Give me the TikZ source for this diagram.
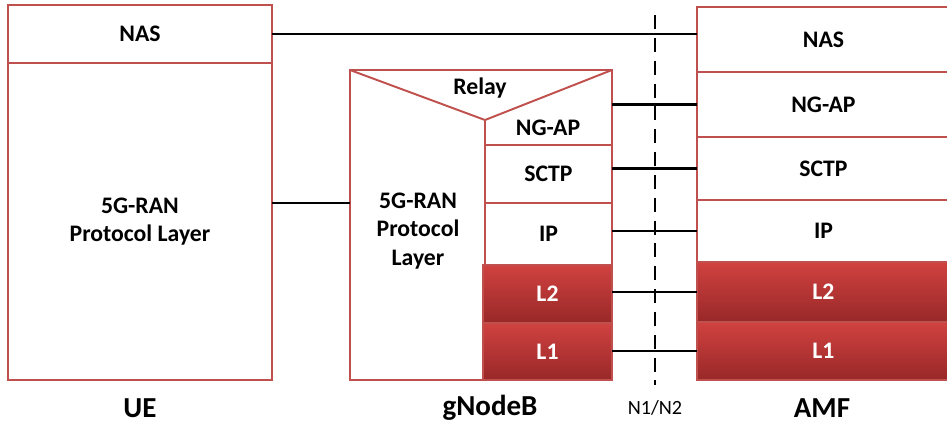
\documentclass[tikz,border=0pt]{standalone}
\usepackage{fontspec}
\setmainfont{Carlito}
\usetikzlibrary{positioning}
\definecolor{edgered}{RGB}{192,80,77}
\definecolor{layertop}{RGB}{208,66,64}
\definecolor{layerbot}{RGB}{152,40,40}
\tikzstyle{layer} = [rectangle, anchor=north west, draw=edgered, line width=1.1pt, fill=white, inner sep=0pt, outer sep=0pt, align=center, font=\bfseries\fontsize{13.5}{16}\selectfont]
\tikzstyle{phy} = [layer, top color=layertop, bottom color=layerbot, text=white]
\tikzstyle{link} = [line width=1.3pt, black]
\tikzstyle{entity} = [font=\bfseries\fontsize{16.5}{18}\selectfont]

\begin{document}
\begin{tikzpicture}[x=0.02cm, y=-0.02cm]
\useasboundingbox (0,0) rectangle (947,424);
% UE stack
\node (uenas) [layer, minimum width=5.28cm, minimum height=1.16cm] at (8,5) {NAS};
\node (ueran) [layer, minimum width=5.28cm, minimum height=6.34cm] at (8,63) {5G-RAN\\Protocol Layer};
% gNodeB stack
\node (gnb) [layer, minimum width=5.24cm, minimum height=6.2cm] at (350,70) {};
\coordinate (tip) at (485,120);
\draw [edgered, line width=1.1pt] (gnb.north west) -- (tip) -- (gnb.north east);
\node (gnbsctp) [layer, minimum width=2.54cm, minimum height=1.16cm] at (485,145) {SCTP};
\draw [edgered, line width=1.1pt] (tip) -- (gnbsctp.north west);
\node (gnbip) [layer, minimum width=2.54cm, minimum height=1.24cm] at (485,203) {IP};
\node (gnbl2) [phy, minimum width=2.58cm, minimum height=1.16cm] at (483,265) {L2};
\node (gnbl1) [phy, minimum width=2.58cm, minimum height=1.14cm] at (483,323) {L1};
\node (relay) [font=\bfseries\fontsize{13.5}{16}\selectfont] at (480,88) {Relay};
\node (gnbngap) [font=\bfseries\fontsize{13.5}{16}\selectfont] at (548,128) {NG-AP};
\node (gnbran) [align=center, font=\bfseries\fontsize{13.5}{16}\selectfont] at (418,231) {5G-RAN\\Protocol\\Layer};
% AMF stack
\node (amfnas) [layer, minimum width=5.06cm, minimum height=1.3cm] at (697,7) {NAS};
\node (amfngap) [layer, minimum width=5.06cm, minimum height=1.3cm] at (697,72) {NG-AP};
\node (amfsctp) [layer, minimum width=5.06cm, minimum height=1.26cm] at (697,137) {SCTP};
\node (amfip) [layer, minimum width=5.06cm, minimum height=1.24cm] at (697,200) {IP};
\node (amfl2) [phy, minimum width=5.06cm, minimum height=1.2cm] at (697,262) {L2};
\node (amfl1) [phy, minimum width=5.06cm, minimum height=1.16cm] at (697,322) {L1};
% reference point
\coordinate (reftop) at (655,15);
\coordinate (refbot) at (655,385);
\draw [link, dash pattern=on 8pt off 5pt] (reftop) -- (refbot);
\node (refname) [font=\fontsize{11.5}{13}\selectfont] at (655,408) {N1/N2};
% peer links
\draw [link] (uenas.east) -- (uenas.east -| amfnas.west);
\draw [link] (ueran.east |- gnbsctp.south) -- (gnb.west |- gnbsctp.south);
\draw [link] (amfngap.west -| gnb.east) -- (amfngap.west);
\draw [link] (amfsctp.west -| gnb.east) -- (amfsctp.west);
\draw [link] (amfip.west -| gnb.east) -- (amfip.west);
\draw [link] (amfl2.west -| gnb.east) -- (amfl2.west);
\draw [link] (amfl1.west -| gnb.east) -- (amfl1.west);
% entity names
\node (uename) [entity] at (140,408) {UE};
\node (gnbname) [entity] at (490,408) {gNodeB};
\node (amfname) [entity] at (822,408) {AMF};
\end{tikzpicture}
\end{document}
